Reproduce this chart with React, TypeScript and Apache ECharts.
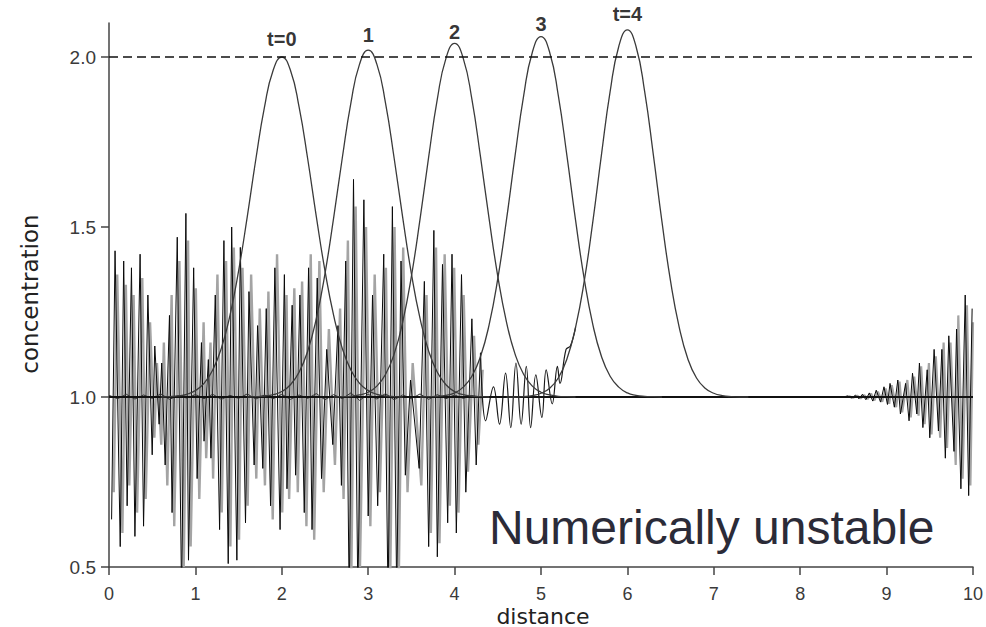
import { useEffect, useRef } from "react";
import * as echarts from "echarts";

// ---- axes ----
const Y_TICKS = [0.5, 1.0, 1.5, 2.0];

// ---- exact solution peaks (t = 0..4) ----
const PEAK_CENTERS = [2, 3, 4, 5, 6];
const PEAK_HEIGHTS = [2.0, 2.02, 2.04, 2.06, 2.08];
const PEAK_LABELS = ["t=0", "1", "2", "3", "t=4"];
const GAUSS_OFFSETS = [
  -1.4, -1.3, -1.2, -1.1, -1.0, -0.9, -0.8, -0.7, -0.6, -0.5, -0.4, -0.3, -0.2, -0.1, 0,
  0.1, 0.2, 0.3, 0.4, 0.5, 0.6, 0.7, 0.8, 0.9, 1.0, 1.1, 1.2, 1.3, 1.4,
];
const GAUSS_T0 = [1.0, 1.001, 1.003, 1.008, 1.019, 1.04, 1.079, 1.143, 1.24, 1.371, 1.53, 1.7, 1.853, 1.961, 2.0, 1.961, 1.853, 1.7, 1.53, 1.371, 1.24, 1.143, 1.079, 1.04, 1.019, 1.008, 1.003, 1.001, 1.0];
const GAUSS_T1 = [1.0, 1.001, 1.003, 1.007, 1.016, 1.036, 1.073, 1.135, 1.231, 1.363, 1.527, 1.703, 1.865, 1.979, 2.02, 1.979, 1.865, 1.703, 1.527, 1.363, 1.231, 1.135, 1.073, 1.036, 1.016, 1.007, 1.003, 1.001, 1.0];
const GAUSS_T2 = [1.0, 1.001, 1.002, 1.006, 1.014, 1.032, 1.066, 1.126, 1.221, 1.355, 1.523, 1.706, 1.876, 1.996, 2.04, 1.996, 1.876, 1.706, 1.523, 1.355, 1.221, 1.126, 1.066, 1.032, 1.014, 1.006, 1.002, 1.001, 1.0];
const GAUSS_T3 = [1.0, 1.001, 1.002, 1.005, 1.012, 1.029, 1.061, 1.119, 1.213, 1.348, 1.52, 1.71, 1.887, 2.014, 2.06, 2.014, 1.887, 1.71, 1.52, 1.348, 1.213, 1.119, 1.061, 1.029, 1.012, 1.005, 1.002, 1.001, 1.0];
const GAUSS_T4 = [1.0, 1.0, 1.001, 1.004, 1.011, 1.026, 1.056, 1.112, 1.205, 1.34, 1.516, 1.713, 1.898, 2.031, 2.08, 2.031, 1.898, 1.713, 1.516, 1.34, 1.205, 1.112, 1.056, 1.026, 1.011, 1.004, 1.001, 1.0, 1.0];
const GAUSS_ALL = [GAUSS_T0, GAUSS_T1, GAUSS_T2, GAUSS_T3, GAUSS_T4];

// ---- unstable numerical solution, black (left part) ----
const BLACK_X = [
  0.03, 0.07, 0.13, 0.17, 0.21, 0.26, 0.3, 0.36, 0.4, 0.45,
  0.5, 0.53, 0.58, 0.61, 0.65, 0.7, 0.73, 0.79, 0.84, 0.89,
  0.92, 0.98, 1.02, 1.07, 1.1, 1.15, 1.18, 1.23, 1.28, 1.33,
  1.38, 1.42, 1.48, 1.52, 1.58, 1.62, 1.68, 1.72, 1.78, 1.82,
  1.87, 1.92, 1.98, 2.03, 2.06, 2.12, 2.16, 2.21, 2.26, 2.31,
  2.35, 2.41, 2.46, 2.52, 2.59, 2.65, 2.69, 2.74, 2.78, 2.83,
  2.88, 2.95, 3.0, 3.05, 3.11, 3.18, 3.23, 3.28, 3.33, 3.38,
  3.43, 3.49, 3.59, 3.65, 3.7, 3.76, 3.8, 3.86, 3.92, 3.97,
  4.02, 4.08, 4.13, 4.2, 4.25, 4.3,
];
const BLACK_Y = [
  0.64, 1.43, 0.56, 1.4, 0.68, 1.38, 0.59, 1.42, 0.62, 1.3,
  0.83, 1.15, 0.92, 1.1, 0.8, 1.24, 0.66, 1.47, 0.42, 1.54,
  0.52, 1.38, 0.76, 1.16, 0.87, 1.11, 0.82, 1.3, 0.61, 1.46,
  0.51, 1.5, 0.52, 1.44, 0.63, 1.31, 0.8, 1.21, 0.79, 1.26,
  0.68, 1.38, 0.61, 1.36, 0.73, 1.27, 0.77, 1.3, 0.66, 1.38,
  0.61, 1.35, 0.76, 1.14, 0.86, 1.21, 0.74, 1.4, 0.4, 1.64,
  0.42, 1.58, 0.65, 1.3, 0.68, 1.42, 0.4, 1.56, 0.42, 1.4,
  0.77, 1.05, 0.79, 1.34, 0.56, 1.49, 0.53, 1.39, 0.63, 1.42,
  0.6, 1.36, 0.72, 1.23, 0.8, 1.13,
];

// ---- unstable numerical solution, gray (left part) ----
const GRAY_X = [
  0.055, 0.095, 0.155, 0.195, 0.235, 0.285, 0.325, 0.385, 0.425, 0.475,
  0.525, 0.555, 0.605, 0.635, 0.675, 0.725, 0.755, 0.815, 0.865, 0.915,
  0.945, 1.005, 1.045, 1.095, 1.125, 1.175, 1.205, 1.255, 1.305, 1.355,
  1.405, 1.445, 1.505, 1.545, 1.605, 1.645, 1.705, 1.745, 1.805, 1.845,
  1.895, 1.945, 2.005, 2.055, 2.085, 2.145, 2.185, 2.235, 2.285, 2.335,
  2.375, 2.435, 2.485, 2.545, 2.615, 2.675, 2.715, 2.765, 2.805, 2.855,
  2.905, 2.975, 3.025, 3.075, 3.135, 3.205, 3.255, 3.305, 3.355, 3.405,
  3.455, 3.515, 3.615, 3.675, 3.725, 3.785, 3.825, 3.885, 3.945, 3.995,
  4.045, 4.105, 4.155, 4.225, 4.275, 4.325,
];
const GRAY_Y = [
  0.72, 1.36, 0.6, 1.33, 0.74, 1.3, 0.66, 1.35, 0.7, 1.22,
  0.88, 1.1, 0.86, 1.16, 0.74, 1.3, 0.62, 1.4, 0.5, 1.46,
  0.56, 1.32, 0.7, 1.22, 0.82, 1.16, 0.76, 1.36, 0.66, 1.4,
  0.56, 1.44, 0.58, 1.38, 0.68, 1.36, 0.76, 1.26, 0.74, 1.31,
  0.64, 1.42, 0.66, 1.3, 0.7, 1.32, 0.72, 1.34, 0.62, 1.42,
  0.58, 1.4, 0.72, 1.2, 0.8, 1.26, 0.7, 1.46, 0.48, 1.56,
  0.5, 1.5, 0.62, 1.36, 0.72, 1.38, 0.46, 1.5, 0.48, 1.44,
  0.72, 1.1, 0.74, 1.3, 0.6, 1.44, 0.57, 1.42, 0.68, 1.38,
  0.66, 1.3, 0.78, 1.18, 0.86, 1.08,
];

// ---- black tail (smoother oscillation joining the t=4 peak) ----
const TAIL_X = [4.3, 4.36, 4.45, 4.52, 4.59, 4.65, 4.71, 4.77, 4.83, 4.88, 4.94, 5.01, 5.06, 5.13, 5.19, 5.22, 5.29, 5.34, 5.4];
const TAIL_Y = [1.13, 0.93, 1.03, 0.92, 1.07, 0.91, 1.1, 0.92, 1.09, 0.91, 1.065, 0.94, 1.08, 0.98, 1.09, 1.04, 1.14, 1.15, 1.205];

// ---- growing oscillation at the right boundary ----
const RIGHT_X = [8.5, 8.55, 8.59, 8.64, 8.68, 8.72, 8.76, 8.8, 8.84, 8.88, 8.93, 8.97, 9.01, 9.04, 9.09, 9.13, 9.16, 9.22, 9.26, 9.3, 9.35, 9.38, 9.42, 9.47, 9.5, 9.55, 9.6, 9.64, 9.68, 9.72, 9.78, 9.81, 9.86, 9.91, 9.95, 9.99];
const RIGHT_Y = [1.0, 1.003, 0.997, 1.005, 0.995, 1.008, 0.992, 1.012, 0.988, 1.02, 0.985, 1.03, 0.978, 1.04, 0.97, 1.05, 0.95, 1.04, 0.93, 1.07, 0.95, 1.1, 0.91, 1.08, 0.88, 1.14, 0.9, 1.14, 0.82, 1.18, 0.84, 1.2, 0.73, 1.3, 0.71, 1.26];
const RIGHT_GRAY_X = [8.52, 8.57, 8.61, 8.66, 8.7, 8.74, 8.78, 8.82, 8.86, 8.9, 8.95, 8.99, 9.03, 9.06, 9.11, 9.15, 9.18, 9.24, 9.28, 9.32, 9.37, 9.4, 9.44, 9.49, 9.52, 9.57, 9.62, 9.66, 9.7, 9.74, 9.8, 9.83, 9.88, 9.93, 9.97, 10.0];
const RIGHT_GRAY_Y = [1.0, 1.002, 0.998, 1.004, 0.996, 1.006, 0.994, 1.01, 0.99, 1.016, 0.986, 1.025, 0.98, 1.035, 0.97, 1.045, 0.955, 1.05, 0.94, 1.06, 0.945, 1.09, 0.92, 1.1, 0.89, 1.12, 0.88, 1.16, 0.85, 1.16, 0.8, 1.24, 0.76, 1.27, 0.74, 1.22];

// ---- small wiggles on the baseline ----
const WIGGLE_X = [0, 0.1, 0.2, 0.3, 0.4, 0.5, 0.6, 0.7, 0.8, 0.9, 1.0, 1.1, 1.2, 1.3, 1.4, 1.5, 1.6, 1.7, 1.8, 1.9, 2.0, 2.1, 2.2, 2.3, 2.4, 2.5, 2.6, 2.7, 2.8, 2.9, 3.0, 3.1, 3.2, 3.3, 3.4, 3.5, 3.6, 3.7, 3.8, 3.9, 4.0, 4.1, 4.2, 4.3, 4.4];
const WIGGLE_Y = [1.005, 0.995, 1.008, 0.994, 1.006, 0.996, 1.009, 0.993, 1.004, 0.997, 1.007, 0.995, 1.008, 0.993, 1.005, 0.996, 1.009, 0.994, 1.006, 0.995, 1.008, 0.993, 1.006, 0.996, 1.01, 0.992, 1.007, 0.995, 1.012, 0.99, 1.008, 0.994, 1.01, 0.992, 1.006, 0.995, 1.009, 0.993, 1.007, 0.995, 1.006, 0.996, 1.004, 0.998, 1.0];

const BASELINE = [[0, 1.0], [10, 1.0]];
const REFERENCE_LEVEL = [[0, 2.0], [10, 2.0]];

const pairs = (xs: number[], ys: number[]) => xs.map((x, i) => [x, ys[i]]);

const FONT = "Liberation Sans, Arial, sans-serif";
// label gap (px) above each peak, a style setting
const LABEL_GAP = [8, 5, 1, 3, 6];

const lineBase = {
  type: "line" as const,
  showSymbol: false,
  symbol: "none",
  silent: true,
  clip: true,
};

export default function App() {
  const ref = useRef<HTMLDivElement>(null);
  useEffect(() => {
    document.body.style.margin = "0";
    const chart = echarts.init(ref.current!, null, { renderer: "svg" });

    const gaussSeries = GAUSS_ALL.map((vals, k) => ({
      ...lineBase,
      name: PEAK_LABELS[k],
      data: GAUSS_OFFSETS.map((o, i) => [PEAK_CENTERS[k] + o, vals[i]]),
      smooth: 0.5,
      lineStyle: { color: "#3a3a3a", width: 1.3 },
      z: 5,
    }));

    chart.setOption({
      animation: false,
      backgroundColor: "#ffffff",
      grid: { left: 109, right: 9, top: 23, bottom: 60, containLabel: false },
      xAxis: {
        type: "value",
        min: 0,
        max: 10,
        interval: 1,
        axisLine: { show: true, onZero: false, lineStyle: { color: "#444", width: 1.5 } },
        axisTick: { show: true, length: 8, lineStyle: { color: "#444", width: 1.5 } },
        axisLabel: { margin: 18, fontSize: 18, color: "#3a3a3a", fontFamily: FONT },
        splitLine: { show: false },
      },
      yAxis: {
        type: "value",
        min: 0.5,
        max: 2.1,
        interval: 0.5,
        axisLine: { show: true, onZero: false, lineStyle: { color: "#444", width: 1.5 } },
        axisTick: { show: true, length: 8, customValues: Y_TICKS, lineStyle: { color: "#444", width: 1.5 } },
        axisLabel: {
          margin: 13,
          fontSize: 19,
          color: "#3a3a3a",
          fontFamily: FONT,
          formatter: (v: number) => (Y_TICKS.some((t) => Math.abs(t - v) < 1e-6) ? v.toFixed(1) : ""),
        },
        splitLine: { show: false },
      },
      graphic: [
        {
          type: "text",
          left: 489,
          top: 503,
          style: { text: "Numerically unstable", fontSize: 48, fontFamily: FONT, fill: "#2b2b38" },
          silent: true,
        },
        {
          type: "text",
          x: 543,
          y: 616,
          style: { text: "distance", fontSize: 22, fontFamily: "DejaVu Sans, sans-serif", fill: "#222", align: "center", verticalAlign: "middle" },
          silent: true,
        },
        {
          type: "text",
          x: 30,
          y: 294,
          rotation: Math.PI / 2,
          style: { text: "concentration", fontSize: 23, fontFamily: "DejaVu Sans, sans-serif", fill: "#222", align: "center", verticalAlign: "middle" },
          silent: true,
        },
      ],
      series: [
        { ...lineBase, name: "gray", data: pairs(GRAY_X, GRAY_Y), lineStyle: { color: "#a4a4a4", width: 2.4 }, z: 1 },
        { ...lineBase, name: "grayRight", data: pairs(RIGHT_GRAY_X, RIGHT_GRAY_Y), lineStyle: { color: "#a4a4a4", width: 2.2 }, z: 1 },
        { ...lineBase, name: "black", data: pairs(BLACK_X, BLACK_Y), lineStyle: { color: "#0a0a0a", width: 1.0 }, z: 2 },
        { ...lineBase, name: "blackTail", data: pairs(TAIL_X, TAIL_Y), smooth: 0.4, lineStyle: { color: "#1a1a1a", width: 1.2 }, z: 2 },
        { ...lineBase, name: "blackRight", data: pairs(RIGHT_X, RIGHT_Y), lineStyle: { color: "#0a0a0a", width: 1.0 }, z: 2 },
        { ...lineBase, name: "wiggle", data: pairs(WIGGLE_X, WIGGLE_Y), lineStyle: { color: "#333", width: 1 }, z: 3 },
        { ...lineBase, name: "baseline", data: BASELINE, lineStyle: { color: "#111", width: 2 }, z: 4 },
        ...gaussSeries,
        {
          ...lineBase,
          name: "level",
          data: REFERENCE_LEVEL,
          lineStyle: { color: "#111", width: 1.3, type: [9, 5] },
          z: 6,
        },
        {
          type: "scatter",
          name: "labels",
          silent: true,
          symbolSize: 0,
          clip: false,
          z: 7,
          data: PEAK_CENTERS.map((c, i) => ({
            value: [c, PEAK_HEIGHTS[i]],
            label: { formatter: PEAK_LABELS[i], distance: LABEL_GAP[i] },
          })),
          label: {
            show: true,
            position: "top",
            fontSize: 20,
            fontWeight: "bold",
            fontFamily: FONT,
            color: "#000",
          },
        },
      ],
    });
    return () => chart.dispose();
  }, []);
  return <div ref={ref} style={{ width: 986, height: 627 }} />;
}
